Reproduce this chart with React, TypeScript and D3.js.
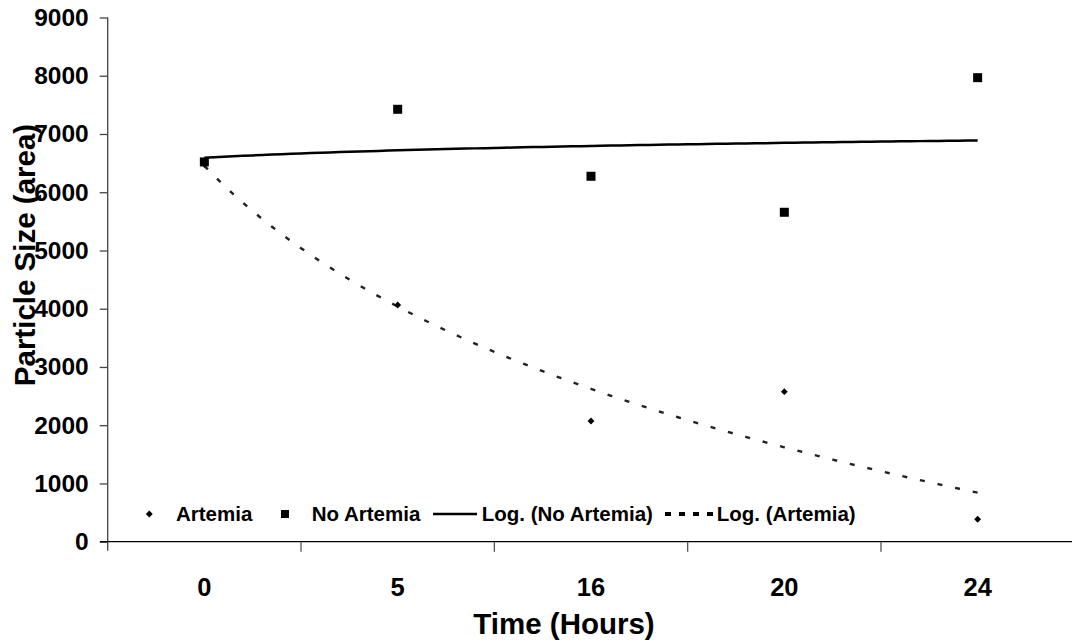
import * as d3 from "d3"
import React, { useEffect, useRef } from "react"

// Time categories (hours) and the two measured series.
const categories = ["0", "5", "16", "20", "24"]
const artemia = [6480, 4064, 2072, 2576, 385]
const noArtemia = [6520, 7424, 6274, 5656, 7967]
const yTicks = [0, 1000, 2000, 3000, 4000, 5000, 6000, 7000, 8000, 9000]
const legendItems = ["Artemia", "No Artemia", "Log. (No Artemia)", "Log. (Artemia)"]

const FONT = "'Liberation Sans', Arial, sans-serif"

// Excel style logarithmic trend: y = a*ln(x) + b, x = 1..n
const logFit = (vals: number[]) => {
    const xs = vals.map((_, i) => Math.log(i + 1))
    const mx = d3.mean(xs) as number
    const my = d3.mean(vals) as number
    let num = 0, den = 0
    xs.forEach((x, i) => {
        num += (x - mx) * (vals[i] - my)
        den += (x - mx) * (x - mx)
    })
    const a = num / den
    const b = my - a * mx
    return (x: number) => a * Math.log(x) + b
}

const App = () => {
    const refSvg = useRef<SVGSVGElement>(null)

    useEffect(() => {
        const svg = d3.select(refSvg.current)
        svg.selectAll("*").remove()

        const left = 107.7, right = 1074.3, top = 17.5, bottom = 541.7

        const scaleX = d3.scaleBand().domain(categories).range([left, right]).padding(0)
        const cx = (c: string) => (scaleX(c) as number) + scaleX.bandwidth() / 2
        const scaleY = d3.scaleLinear().domain([0, 9000]).range([bottom, top])
        // index (1..n) -> pixel, for trend curves
        const scaleIdx = d3.scaleLinear().domain([1, categories.length])
                            .range([cx(categories[0]), cx(categories[categories.length - 1])])

        // Y axis
        const gY = svg.append("g").attr("transform", `translate(${left},0)`)
        gY.call(d3.axisLeft(scaleY).tickValues(yTicks).tickFormat(d3.format("d"))
                  .tickSize(8).tickSizeOuter(0).tickPadding(11))
        gY.select(".domain").attr("stroke", "#444").attr("stroke-width", 1.3)
            .attr("d", `M0,${top}V${bottom + 9}`)
        gY.selectAll(".tick line").attr("stroke", "#444").attr("stroke-width", 1.3)
        gY.selectAll(".tick text")
            .attr("font-family", FONT).attr("font-weight", "bold")
            .attr("font-size", 24.5).attr("fill", "#000")

        // X axis
        const gX = svg.append("g").attr("transform", `translate(0,${bottom})`)
        gX.call(d3.axisBottom(scaleX).tickSize(0).tickPadding(36))
        gX.select(".domain").attr("stroke", "#000").attr("stroke-width", 1.3)
            .attr("d", `M100,0H1072`)
        gX.selectAll(".tick text")
            .attr("font-family", FONT).attr("font-weight", "bold")
            .attr("font-size", 25.5).attr("fill", "#000")
        // boundary ticks between categories
        gX.selectAll(".bound")
            .data(categories.slice(1).concat(["end"]))
            .join("line")
            .attr("class", "bound")
            .attr("x1", (_, i) => left + (i + 1) * scaleX.bandwidth())
            .attr("x2", (_, i) => left + (i + 1) * scaleX.bandwidth())
            .attr("y1", 0).attr("y2", 10)
            .attr("stroke", "#555").attr("stroke-width", 1.3)

        // Axis titles
        svg.append("text")
            .attr("x", 564).attr("y", 634)
            .attr("text-anchor", "middle")
            .attr("font-family", FONT).attr("font-weight", "bold").attr("font-size", 29.5)
            .text("Time (Hours)")
        svg.append("text")
            .attr("transform", `translate(35,255) rotate(-90)`)
            .attr("text-anchor", "middle")
            .attr("font-family", FONT).attr("font-weight", "bold").attr("font-size", 29.5)
            .text("Particle Size (area)")

        // Trend lines
        const idx = d3.range(1, categories.length + 0.001, 0.05)
        const fitNo = logFit(noArtemia)
        const fitArt = logFit(artemia)
        const line = (f: (x: number) => number) =>
            d3.line<number>().x(d => scaleIdx(d)).y(d => scaleY(f(d)))(idx)

        svg.append("path").attr("d", line(fitNo))
            .attr("fill", "none").attr("stroke", "#000").attr("stroke-width", 2.5)
        svg.append("path").attr("d", line(fitArt))
            .attr("fill", "none").attr("stroke", "#222").attr("stroke-width", 2.4)
            .attr("stroke-dasharray", "5,13")

        // Markers
        const diamond = d3.symbol().type(d3.symbolDiamond2).size(30)
        svg.selectAll(".pt-art")
            .data(artemia)
            .join("path")
            .attr("class", "pt-art")
            .attr("d", diamond)
            .attr("transform", (d, i) => `translate(${cx(categories[i])},${scaleY(d)})`)
            .attr("fill", "#000")
        svg.selectAll(".pt-no")
            .data(noArtemia)
            .join("rect")
            .attr("class", "pt-no")
            .attr("x", (_, i) => cx(categories[i]) - 4.5)
            .attr("y", d => scaleY(d) - 4.5)
            .attr("width", 9).attr("height", 9)
            .attr("fill", "#000")

        // Legend
        const ly = 514
        const gL = svg.append("g")
        const legendText = (x: number, s: string) =>
            gL.append("text").attr("x", x).attr("y", ly).attr("dy", "0.35em")
                .attr("font-family", FONT).attr("font-weight", "bold").attr("font-size", 20.5)
                .text(s)
        gL.append("path").attr("d", diamond).attr("transform", `translate(149.3,${ly})`).attr("fill", "#000")
        legendText(176, legendItems[0])
        gL.append("rect").attr("x", 281).attr("y", ly - 4).attr("width", 8).attr("height", 8).attr("fill", "#000")
        legendText(311.7, legendItems[1])
        gL.append("line").attr("x1", 433).attr("x2", 477).attr("y1", ly).attr("y2", ly)
            .attr("stroke", "#000").attr("stroke-width", 2.5)
        legendText(481.7, legendItems[2])
        gL.append("line").attr("x1", 665).attr("x2", 716).attr("y1", ly).attr("y2", ly)
            .attr("stroke", "#000").attr("stroke-width", 4).attr("stroke-dasharray", "6,8")
        legendText(716.7, legendItems[3])
    }, [])

    return (
        <svg ref={refSvg} width={1072} height={643}
             style={{ position: "absolute", left: 0, top: 0, background: "#fff", display: "block" }} />
    )
}

export default App
